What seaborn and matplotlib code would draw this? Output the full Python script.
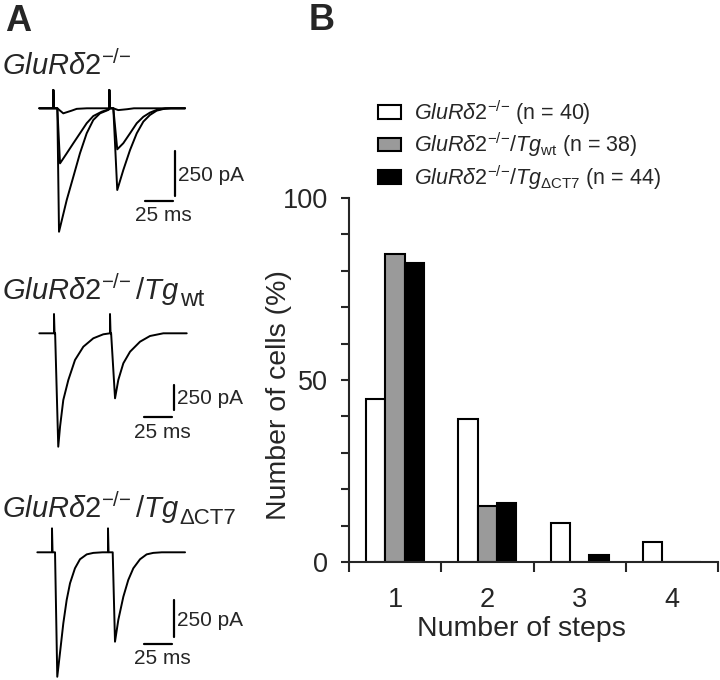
import numpy as np
import pandas as pd
import seaborn as sns
import matplotlib.pyplot as plt
from matplotlib.patches import Patch
from matplotlib.ticker import FixedLocator

# -----------------------------
# Panel B data: % of cells vs number of steps
# -----------------------------
steps = ["1", "2", "3", "4"]
genotypes = [
    r"$\mathit{GluR\delta 2}^{{-}/{-}}$",
    r"$\mathit{GluR\delta 2}^{{-}/{-}}\mathit{/Tg}_{\mathrm{wt}}$",
    r"$\mathit{GluR\delta 2}^{{-}/{-}}\mathit{/Tg}_{\mathrm{\Delta CT7}}$",
]
n_cells = [40, 38, 44]
pct_ko = [44.7, 39.3, 10.8, 5.4]
pct_wt = [84.5, 15.5, 0.0, 0.0]
pct_dct7 = [82.2, 16.3, 1.8, 0.0]
bar_colors = ["white", "#9a9a9a", "black"]

# panel A headings (main part + subscript)
title_main = [
    r"$\mathit{GluR\delta 2}^{{-}/{-}}$",
    r"$\mathit{GluR\delta 2}^{{-}/{-}}\,\mathit{/Tg}$",
    r"$\mathit{GluR\delta 2}^{{-}/{-}}\,\mathit{/Tg}$",
]
title_sub = ["", "wt", "ΔCT7"]

# -----------------------------
# Panel A data: EPSC traces (ms, pA), paired pulses 50 ms apart
# -----------------------------
# GluRd2-/- : three sweeps (one, two and three steps)
t_ko_big = [-12.5, 0, 0, 0.6, 3.6, 5.1, 12.0, 17.9, 23.8, 29.8, 35.7, 41.7, 49.1, 50, 50, 50.6,
            53.6, 57.1, 62.5, 68.5, 74.5, 80.4, 86.3, 92.3, 98.2, 105, 117.6]
i_ko_big = [0, 0, 102, 0, 0, -686, -509, -380, -250, -139, -65, -28, -9, 0, 102, 0,
            0, -454, -343, -232, -139, -74, -37, -13, -4, 0, 0]
t_ko_mid = [-12.5, 0, 0, 0.6, 3.6, 6.0, 12.0, 17.9, 23.8, 29.8, 35.7, 43.2, 50, 50, 50.6,
            53.6, 57.1, 62.5, 68.5, 74.5, 80.4, 86.3, 92.3, 100, 117.6]
i_ko_mid = [0, 0, 102, 0, 0, -306, -250, -194, -139, -83, -43, -19, -5, 102, 0,
            0, -228, -194, -139, -83, -47, -24, -9, 0, 0]
t_ko_small = [-12.5, 0, 0, 0.6, 3.6, 8.9, 16.4, 20.9, 30, 50, 50, 50.6, 53.6, 58, 66, 72, 117.6]
i_ko_small = [0, 0, 102, 0, 0, -28, -13, -3, 0, 0, 102, 0, 0, -10, -5, 0, 0]

# GluRd2-/-/Tg-wt
t_wt = [-13.1, 0, 0, 0.5, 1.0, 3.8, 5.4, 8.3, 12.8, 18.75, 26.2, 35.1, 44, 50, 50, 50.5,
        51, 54.5, 57.4, 61.9, 67.9, 76.8, 85.7, 97.6, 118.5]
i_wt = [0, 0, 193, 0, 0, -1134, -934, -667, -467, -267, -134, -50, -10, 0, 193, 0,
        0, -650, -467, -300, -184, -84, -27, 0, 0]

# GluRd2-/-/Tg-dCT7
t_dct7 = [-13.1, 0, 0, 0.5, 2.7, 4.7, 7.1, 10.1, 13.1, 16.1, 20.5, 25, 31, 36.9, 45, 50, 50, 50.5,
          54.2, 56.25, 59.2, 63.7, 68.1, 72.6, 78.6, 84.5, 90.4, 98, 118.8]
i_dct7 = [0, 0, 162, 0, 0, -841, -682, -480, -322, -209, -108, -47, -14, -4, 0, 0, 162, 0,
          0, -604, -457, -300, -187, -108, -47, -14, -4, 0, 0]

scale_ms = 25
scale_pa = 250

# -----------------------------
# Style
# -----------------------------
sns.set_style("ticks")
plt.rcParams["font.family"] = ["Liberation Sans", "DejaVu Sans"]
plt.rcParams["mathtext.fontset"] = "custom"
plt.rcParams["mathtext.rm"] = "Liberation Sans"
plt.rcParams["mathtext.it"] = "Liberation Sans:italic"
plt.rcParams["mathtext.bf"] = "Liberation Sans:bold"

W, H = 720, 680
fig = plt.figure(figsize=(W / 100, H / 100), dpi=100)

# -----------------------------
# Panel A
# -----------------------------
def trace_axes(box, t0_px, base_px, pa_per_px, px_per_ms=1.12):
    x0, y0, x1, y1 = box
    ax = fig.add_axes([x0 / W, 1 - y1 / H, (x1 - x0) / W, (y1 - y0) / H])
    ax.set_xlim((x0 - t0_px) / px_per_ms, (x1 - t0_px) / px_per_ms)
    ax.set_ylim(-(y1 - base_px) * pa_per_px, -(y0 - base_px) * pa_per_px)
    ax.axis("off")
    return ax


def scale_bar(ax, t_right, pa_bottom, h_gap):
    ax.plot([t_right, t_right], [pa_bottom, pa_bottom + scale_pa], color="black", lw=1.6)
    ax.plot([t_right - 1.5 - scale_ms, t_right - 1.5], [pa_bottom - h_gap] * 2, color="black", lw=1.6)
    ax.annotate(f"{scale_pa} pA", (t_right, pa_bottom + scale_pa * 0.45), xytext=(2, 0),
                textcoords="offset points", ha="left", va="center", fontsize=15)
    ax.annotate(f"{scale_ms} ms", (t_right - 1.5 - scale_ms / 2, pa_bottom - h_gap), xytext=(3, -4),
                textcoords="offset points", ha="center", va="top", fontsize=15)


traces = [
    ((30, 80, 200, 245), (53.3, 108.3, 250 / 45), [(t_ko_small, i_ko_small), (t_ko_mid, i_ko_mid), (t_ko_big, i_ko_big)], (108.7, -487, 26)),
    ((30, 300, 200, 455), (54.0, 333.3, 250 / 25), [(t_wt, i_wt)], (107.1, -767, 73)),
    ((30, 515, 200, 680), (52.0, 552.3, 250 / 37), [(t_dct7, i_dct7)], (108.9, -570, 49)),
]
title_y = [75, 300, 518]
sub_size = [0, 17.5, 16]
for (box, calib, sweeps, sb), main, sub, ty, ss in zip(traces, title_main, title_sub, title_y, sub_size):
    ax_t = trace_axes(box, *calib)
    for t, i in sweeps:
        sns.lineplot(x=t, y=i, ax=ax_t, sort=False, estimator=None, color="black", lw=1.4)
    scale_bar(ax_t, *sb)
    head = fig.text(2 / W, 1 - ty / H, main, fontsize=21, va="baseline", ha="left")
    if sub:
        ax_t.annotate(sub, xy=(1, 0), xycoords=head, xytext=(0.3, -2.5), textcoords="offset points",
                      ha="left", va="bottom", fontsize=ss, annotation_clip=False)

fig.text(5 / W, 1 - 4 / H, "A", fontsize=26, weight="bold", va="top", ha="left")
fig.text(309 / W, 1 - 3 / H, "B", fontsize=26, weight="bold", va="top", ha="left")

# -----------------------------
# Panel B
# -----------------------------
df = pd.DataFrame({
    "steps": steps * 3,
    "genotype": [g for g in genotypes for _ in steps],
    "pct": pct_ko + pct_wt + pct_dct7,
})

ax = fig.add_axes([349 / W, 118 / H, 369 / W, 364 / H])
sns.barplot(data=df, x="steps", y="pct", hue="genotype", hue_order=genotypes,
            palette=bar_colors, edgecolor="black", linewidth=1.5, width=0.63,
            legend=False, ax=ax)

ax.set_xlim(-0.5, 3.5)
ax.set_ylim(0, 100)
ax.set_xlabel("")
ax.set_ylabel("")
sns.despine(ax=ax)
for s in ["left", "bottom"]:
    ax.spines[s].set_linewidth(1.5)

ax.set_yticks([0, 50, 100])
ax.yaxis.set_minor_locator(FixedLocator(np.arange(0, 101, 10)))
ax.tick_params(axis="y", which="both", length=5.8, width=1.5, labelsize=19.5, pad=9)
ax.set_xticks(range(len(steps)))
ax.set_xticklabels(steps)
ax.xaxis.set_minor_locator(FixedLocator(np.arange(-0.5, 3.6, 1.0)))
ax.tick_params(axis="x", which="major", length=0, labelsize=19.5, pad=18)
ax.tick_params(axis="x", which="minor", length=7.2, width=1.5)

fig.text(279 / W, 1 - 395 / H, "Number of cells (%)", rotation=90, ha="center", va="center", fontsize=20.5)
fig.text(521 / W, 1 - 636 / H, "Number of steps", ha="center", va="baseline", fontsize=20.5)

handles = [Patch(facecolor=c, edgecolor="black", linewidth=1.5) for c in bar_colors]
labels = [f"{g} (n = {n})" for g, n in zip(genotypes, n_cells)]
ax.legend(handles, labels, loc="upper left", bbox_to_anchor=(378 / W, 1 - 98 / H),
          bbox_transform=fig.transFigure, frameon=False, borderpad=0, borderaxespad=0,
          handlelength=1.05, handleheight=0.62, handletextpad=0.6, labelspacing=0.18,
          fontsize=15.5)

fig.savefig("out.png", dpi=100)
